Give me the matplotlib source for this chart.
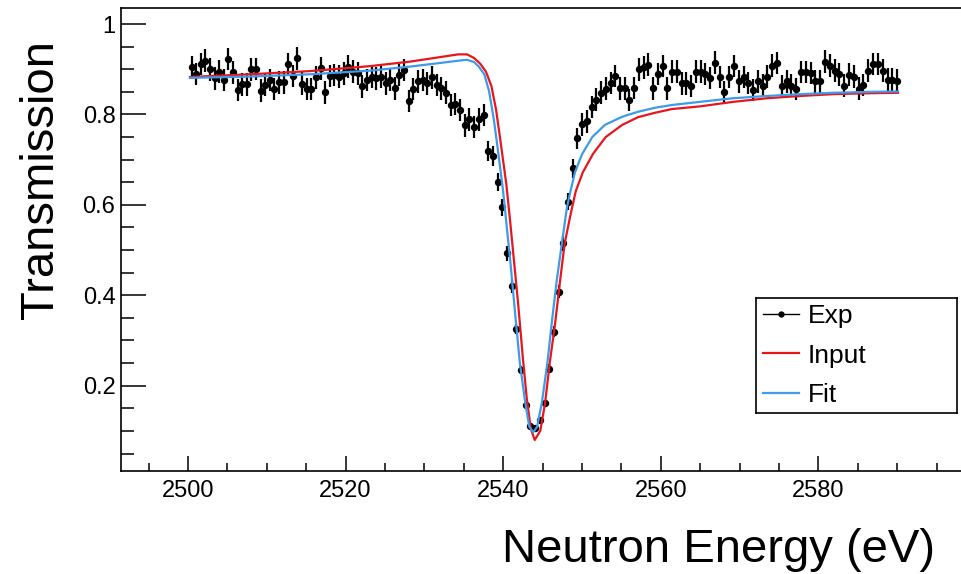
import matplotlib
matplotlib.use("Agg")
import matplotlib.pyplot as plt
from matplotlib.lines import Line2D
from matplotlib.ticker import MultipleLocator, FixedLocator, FuncFormatter
import numpy as np

plt.rcParams['font.family'] = ['Liberation Sans', 'DejaVu Sans']

# measured transmission (151 time-of-flight bins, 2500.5 - 2590 eV)
e_first, e_last, n_bins = 2500.47, 2590.0, 151
trans = [
    0.904, 0.890, 0.912, 0.919, 0.900, 0.880, 0.895, 0.876, 0.923, 0.893,
    0.854, 0.867, 0.867, 0.900, 0.901, 0.853, 0.865, 0.876, 0.856, 0.871,
    0.871, 0.911, 0.885, 0.924, 0.868, 0.856, 0.856, 0.882, 0.902, 0.849,
    0.885, 0.887, 0.884, 0.891, 0.906, 0.895, 0.891, 0.862, 0.876, 0.884,
    0.880, 0.884, 0.869, 0.876, 0.858, 0.887, 0.898, 0.830, 0.856, 0.873,
    0.876, 0.869, 0.882, 0.865, 0.858, 0.848, 0.821, 0.823, 0.810, 0.776,
    0.789, 0.772, 0.789, 0.799, 0.720, 0.708, 0.651, 0.595, 0.493, 0.421,
    0.325, 0.235, 0.157, 0.111, 0.107, 0.124, 0.162, 0.238, 0.319, 0.408,
    0.515, 0.607, 0.681, 0.747, 0.778, 0.785, 0.817, 0.833, 0.848, 0.857,
    0.870, 0.885, 0.858, 0.858, 0.832, 0.859, 0.900, 0.904, 0.910, 0.858,
    0.890, 0.907, 0.858, 0.895, 0.895, 0.869, 0.869, 0.863, 0.895, 0.895,
    0.890, 0.881, 0.915, 0.883, 0.850, 0.883, 0.907, 0.873, 0.883, 0.870,
    0.854, 0.873, 0.864, 0.884, 0.908, 0.914, 0.863, 0.873, 0.864, 0.856,
    0.894, 0.894, 0.892, 0.873, 0.873, 0.917, 0.908, 0.897, 0.889, 0.864,
    0.888, 0.884, 0.857, 0.865, 0.897, 0.912, 0.912, 0.897, 0.877, 0.877,
    0.875,
]
# error bars: constant off resonance, smaller in the dip (bins 65-84)
err = [0.025] * 64 + [
    0.022, 0.022, 0.020, 0.019, 0.017, 0.015, 0.011, 0.008, 0.006, 0.005,
    0.005, 0.005, 0.006, 0.009, 0.012, 0.015, 0.017, 0.019, 0.021, 0.023,
] + [0.025] * 67

# input (red) curve
input_e = [2500.25, 2507.9, 2515.5, 2523.1, 2528.2, 2532.0, 2534.3, 2535.4,
           2536.3, 2537.1, 2537.8, 2538.5, 2539.1, 2539.7, 2540.4, 2540.9,
           2541.4, 2541.9, 2542.5, 2543.0, 2543.5, 2544.0, 2544.7, 2545.3,
           2545.9, 2546.6, 2547.2, 2547.8, 2548.5, 2549.2, 2550.1, 2551.4,
           2553.0, 2555.1, 2557.1, 2559.3, 2561.4, 2565.0, 2569.2, 2573.5,
           2577.7, 2581.9, 2586.2, 2590.1]
input_t = [0.883, 0.889, 0.896, 0.907, 0.917, 0.927, 0.933, 0.933,
           0.925, 0.912, 0.895, 0.863, 0.810, 0.735, 0.645, 0.560,
           0.470, 0.380, 0.260, 0.170, 0.105, 0.080, 0.100, 0.160,
           0.250, 0.340, 0.430, 0.515, 0.575, 0.630, 0.672, 0.713,
           0.750, 0.777, 0.794, 0.804, 0.812, 0.818, 0.828, 0.836,
           0.841, 0.845, 0.847, 0.848]

# fit (blue) curve
fit_e = [2500.25, 2507.9, 2515.5, 2523.1, 2528.2, 2532.0, 2534.3, 2535.4,
         2536.3, 2536.9, 2537.6, 2538.2, 2538.8, 2539.3, 2539.97, 2540.4,
         2540.9, 2541.5, 2542.1, 2542.8, 2543.3, 2543.8, 2544.3, 2544.9,
         2545.6, 2546.2, 2546.8, 2547.5, 2548.1, 2548.6, 2549.1, 2550.0,
         2551.3, 2552.9, 2555.1, 2557.1, 2559.3, 2561.4, 2565.0, 2569.2,
         2573.5, 2577.7, 2581.9, 2586.2, 2590.1]
fit_t = [0.881, 0.884, 0.889, 0.897, 0.906, 0.914, 0.919, 0.921,
         0.916, 0.906, 0.889, 0.852, 0.790, 0.725, 0.633, 0.560,
         0.475, 0.362, 0.252, 0.162, 0.110, 0.097, 0.109, 0.162,
         0.250, 0.345, 0.434, 0.522, 0.596, 0.635, 0.672, 0.712,
         0.750, 0.777, 0.795, 0.806, 0.815, 0.821, 0.828, 0.836,
         0.841, 0.845, 0.848, 0.850, 0.851]

x_major = [2500, 2520, 2540, 2560, 2580]

# bins are equally spaced in time of flight (1/sqrt(E))
energy = 1.0 / np.linspace(1 / np.sqrt(e_first), 1 / np.sqrt(e_last), n_bins) ** 2

red = '#e8161c'
blue = '#3d9be9'

fig = plt.figure(figsize=(9.62, 5.74), dpi=100)
ax = fig.add_axes([0.1258, 0.1800, 0.8888, 0.8056])

ax.errorbar(energy, trans, yerr=err, fmt='o', color='k', ms=4.3,
            elinewidth=1.6, capsize=0, zorder=2)
ax.plot(input_e, input_t, color=red, lw=1.6, zorder=3)
ax.plot(fit_e, fit_t, color=blue, lw=1.6, zorder=4)

ax.set_xlim(2491.5, 2600)
ax.set_ylim(0.012, 1.035)

ax.xaxis.set_major_locator(FixedLocator(x_major))
ax.xaxis.set_minor_locator(MultipleLocator(5))
ax.yaxis.set_major_locator(MultipleLocator(0.2))
ax.yaxis.set_minor_locator(MultipleLocator(0.05))
ax.yaxis.set_major_formatter(FuncFormatter(lambda v, _: f"{v:g}"))

ax.tick_params(axis='both', which='both', direction='in', top=False, right=False,
               width=1.1, labelsize=17)
ax.tick_params(axis='x', which='major', length=10.8, pad=7)
ax.tick_params(axis='x', which='minor', length=5.5)
ax.tick_params(axis='y', which='major', length=18, pad=4)
ax.tick_params(axis='y', which='minor', length=9)
for s in ax.spines.values():
    s.set_linewidth(1.2)

fig.text(935 / 962, 12 / 574, 'Neutron Energy (eV)', fontsize=34,
         ha='right', va='baseline')
fig.text(53 / 962, (574 - 40) / 574, 'Transmission', fontsize=34,
         rotation=90, rotation_mode='anchor', ha='right', va='baseline')

# legend box
lax = fig.add_axes([756 / 962, (574 - 413) / 574, 201 / 962, 115 / 574])
lax.set_xticks([])
lax.set_yticks([])
for s in lax.spines.values():
    s.set_linewidth(1.2)
handles = [
    Line2D([], [], color='k', lw=1.0, marker='o', ms=3.5),
    Line2D([], [], color=red, lw=1.6),
    Line2D([], [], color=blue, lw=1.6),
]
lax.legend(handles, ['Exp', 'Input', 'Fit'], loc='center left',
           bbox_to_anchor=(7 / 201, 0.5), frameon=False, fontsize=19,
           borderpad=0, borderaxespad=0, handlelength=1.36,
           handletextpad=0.34, labelspacing=0.58, numpoints=1)

plt.savefig('out.png', dpi=100)
